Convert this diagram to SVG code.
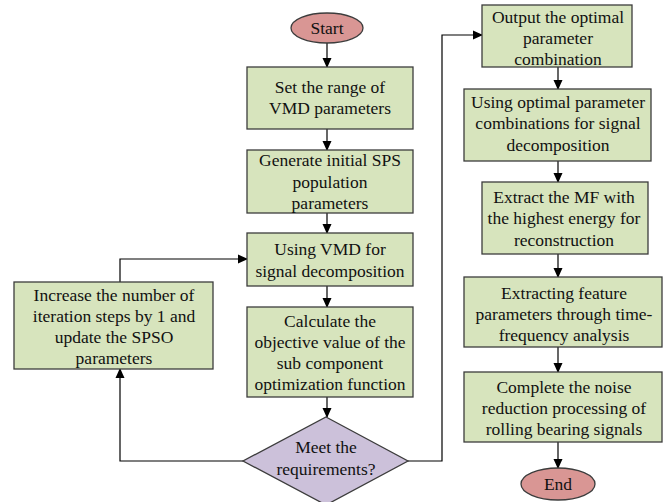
<svg xmlns="http://www.w3.org/2000/svg" width="667" height="502" viewBox="0 0 667 502">
<defs>
<marker id="ah" markerWidth="10" markerHeight="10" refX="9" refY="5" orient="auto" markerUnits="userSpaceOnUse">
<path d="M0,0.5 L10,5 L0,9.5 z" fill="#000"/>
</marker>
<style>
.box{fill:#d7e4bd;stroke:#3c3c3c;stroke-width:1.3}
.term{fill:#d99694;stroke:#3c3c3c;stroke-width:1.3}
.dec{fill:#ccc1da;stroke:#3c3c3c;stroke-width:1.3}
.t{font-family:'Liberation Serif','Times New Roman',serif;font-size:17.5px;fill:#111;text-anchor:middle}
.c{fill:none;stroke:#000;stroke-width:1.2;marker-end:url(#ah)}
</style>
</defs>
<rect width="667" height="502" fill="#fff"/>
<g id="connectors">
<path class="c" d="M327,43 V67"/>
<path class="c" d="M327,129 V150"/>
<path class="c" d="M327,213 V233"/>
<path class="c" d="M327,286 V307"/>
<path class="c" d="M327,397 V417"/>
<path class="c" d="M243,461 H120 V369"/>
<path class="c" d="M120,282 V259 H247"/>
<path class="c" d="M408,461 H442 V35 H482"/>
<path class="c" d="M558,67 V89"/>
<path class="c" d="M558,161 V182"/>
<path class="c" d="M558,254 V277"/>
<path class="c" d="M558,347 V372"/>
<path class="c" d="M558,442 V468"/>
</g>
<g id="start"><ellipse class="term" cx="327" cy="28" rx="36" ry="15"/><text class="t" x="327" y="34">Start</text></g>
<g id="n1"><rect class="box" x="247" y="67" width="166" height="62"/><text class="t" x="330" y="93">Set the range of</text><text class="t" x="330" y="114">VMD parameters</text></g>
<g id="n2"><rect class="box" x="247" y="150" width="166" height="63"/><text class="t" x="330" y="166">Generate initial SPS</text><text class="t" x="330" y="188">population</text><text class="t" x="330" y="209">parameters</text></g>
<g id="n3"><rect class="box" x="247" y="233" width="166" height="53"/><text class="t" x="330" y="255">Using VMD for</text><text class="t" x="330" y="277">signal decomposition</text></g>
<g id="n4"><rect class="box" x="247" y="307" width="166" height="90"/><text class="t" x="330" y="327">Calculate the</text><text class="t" x="330" y="348">objective value of the</text><text class="t" x="330" y="369">sub component</text><text class="t" x="330" y="390">optimization function</text></g>
<g id="decision"><polygon class="dec" points="326,417 408,461 326,505 243,461"/><text class="t" x="326" y="453">Meet the</text><text class="t" x="326" y="475">requirements?</text></g>
<g id="n5"><rect class="box" x="14" y="282" width="199" height="87"/><text class="t" x="114" y="301">Increase the number of</text><text class="t" x="114" y="322">iteration steps by 1 and</text><text class="t" x="114" y="343">update the SPSO</text><text class="t" x="114" y="364">parameters</text></g>
<g id="r1"><rect class="box" x="482" y="5" width="150" height="62"/><text class="t" x="558" y="23">Output the optimal</text><text class="t" x="558" y="44">parameter</text><text class="t" x="558" y="65">combination</text></g>
<g id="r2"><rect class="box" x="464" y="89" width="187" height="72"/><text class="t" x="558" y="108">Using optimal parameter</text><text class="t" x="558" y="129">combinations for signal</text><text class="t" x="558" y="151">decomposition</text></g>
<g id="r3"><rect class="box" x="482" y="182" width="166" height="72"/><text class="t" x="564" y="203">Extract the MF with</text><text class="t" x="564" y="224">the highest energy for</text><text class="t" x="564" y="246">reconstruction</text></g>
<g id="r4"><rect class="box" x="464" y="277" width="198" height="70"/><text class="t" x="564" y="299">Extracting feature</text><text class="t" x="564" y="320">parameters through time-</text><text class="t" x="564" y="341">frequency analysis</text></g>
<g id="r5"><rect class="box" x="464" y="372" width="198" height="70"/><text class="t" x="564" y="393">Complete the noise</text><text class="t" x="564" y="414">reduction processing of</text><text class="t" x="564" y="435">rolling bearing signals</text></g>
<g id="end"><ellipse class="term" cx="558" cy="484" rx="37" ry="16"/><text class="t" x="558" y="490">End</text></g>
</svg>
